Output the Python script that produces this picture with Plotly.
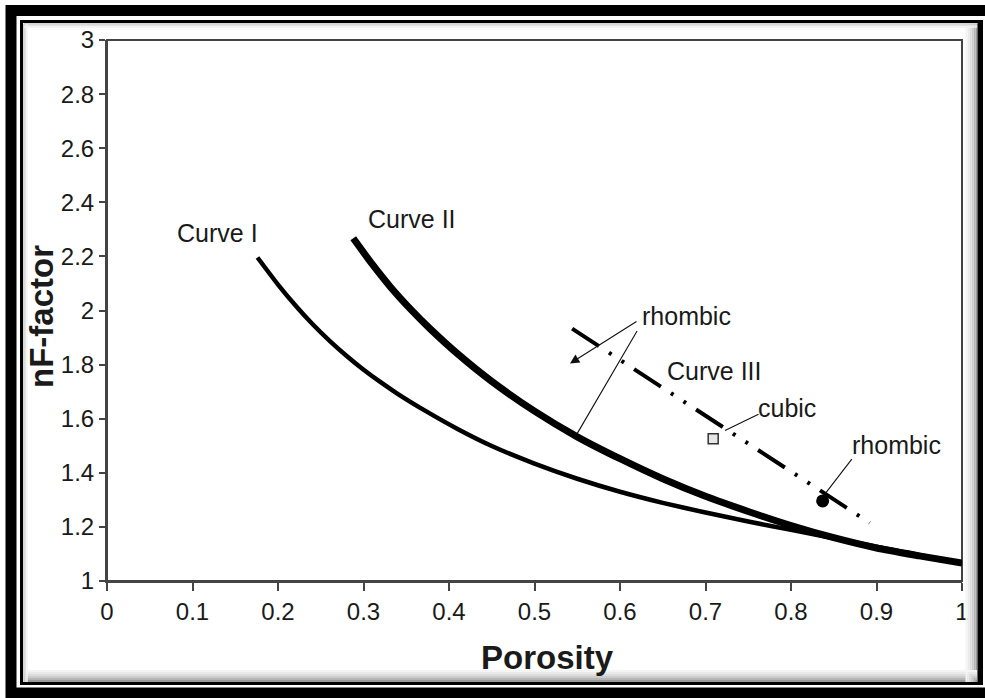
import plotly.graph_objects as go

# ---- data ----
curve1_x = [0.176, 0.20, 0.222, 0.24, 0.261, 0.28, 0.299, 0.32, 0.339, 0.374, 0.41, 0.45, 0.50,
            0.55, 0.60, 0.65, 0.70, 0.75, 0.80, 0.85, 0.90, 0.95, 1.00]
curve1_y = [2.196, 2.096, 2.013, 1.951, 1.886, 1.833, 1.784, 1.735, 1.694, 1.626, 1.562, 1.499, 1.434,
            1.378, 1.33, 1.289, 1.253, 1.22, 1.189, 1.158, 1.127, 1.096, 1.065]

curve2_x = [0.288, 0.31, 0.331, 0.355, 0.378, 0.41, 0.45, 0.50, 0.55, 0.60, 0.65, 0.70, 0.75,
            0.80, 0.85, 0.90, 0.95, 1.00]
curve2_y = [2.267, 2.172, 2.089, 2.005, 1.932, 1.84, 1.738, 1.628, 1.533, 1.452, 1.378, 1.313, 1.257,
            1.205, 1.16, 1.122, 1.093, 1.066]

curve3_x = [0.544, 0.892]
curve3_y = [1.933, 1.215]

cubic_x, cubic_y = [0.709], [1.526]
rhombic_x, rhombic_y = [0.837], [1.296]

x_ticks = [0, 0.1, 0.2, 0.3, 0.4, 0.5, 0.6, 0.7, 0.8, 0.9, 1]
x_tick_labels = ["0", "0.1", "0.2", "0.3", "0.4", "0.5", "0.6", "0.7", "0.8", "0.9", "1"]
y_ticks = [1, 1.2, 1.4, 1.6, 1.8, 2, 2.2, 2.4, 2.6, 2.8, 3]
y_tick_labels = ["1", "1.2", "1.4", "1.6", "1.8", "2", "2.2", "2.4", "2.6", "2.8", "3"]

FONT = "Liberation Sans, Arial, sans-serif"
W, H = 985, 698
ML, MR, MT, MB = 107, 23, 40, 117
PW, PH = W - ML - MR, H - MT - MB


def px(xp):
    return (xp - ML) / PW


def py(yp):
    return (H - MB - yp) / PH


fig = go.Figure()
fig.add_trace(go.Scatter(x=curve1_x, y=curve1_y, mode="lines",
                         line=dict(color="black", width=4.5, shape="spline", smoothing=0.6), showlegend=False))
fig.add_trace(go.Scatter(x=curve2_x, y=curve2_y, mode="lines",
                         line=dict(color="black", width=7, shape="spline", smoothing=0.6), showlegend=False))
fig.add_trace(go.Scatter(x=curve3_x, y=curve3_y, mode="lines",
                         line=dict(color="black", width=4, dash="32px,12px,3px,12px,3px,12px"),
                         showlegend=False))
fig.add_trace(go.Scatter(x=cubic_x, y=cubic_y, mode="markers",
                         marker=dict(symbol="square", size=10, color="#e6e6e6",
                                     line=dict(color="#333", width=1.5)), showlegend=False))
fig.add_trace(go.Scatter(x=rhombic_x, y=rhombic_y, mode="markers",
                         marker=dict(symbol="circle", size=13, color="black"), showlegend=False))

txt = dict(family=FONT, size=25, color="#1a1a1a")

# text labels
fig.add_annotation(x=0.1298, y=2.285, text="Curve I", showarrow=False, font=txt)
fig.add_annotation(x=0.357, y=2.337, text="Curve II", showarrow=False, font=txt)
fig.add_annotation(x=0.710, y=1.778, text="Curve III", showarrow=False, font=txt)
fig.add_annotation(x=0.678, y=1.978, text="rhombic", showarrow=False, font=txt)
fig.add_annotation(x=0.795, y=1.640, text="cubic", showarrow=False, font=txt)
fig.add_annotation(x=0.923, y=1.503, text="rhombic", showarrow=False, font=txt)

# axis titles
ttl = dict(family=FONT, size=33, color="#1a1a1a")
fig.add_annotation(xref="paper", yref="paper", x=px(547), y=py(657), text="<b>Porosity</b>",
                   showarrow=False, font=ttl, xanchor="center", yanchor="middle")
fig.add_annotation(xref="paper", yref="paper", x=px(41), y=py(317), text="<b>nF-factor</b>",
                   showarrow=False, font=ttl, textangle=-90, xanchor="center", yanchor="middle")

# leader lines
leaders = [
    (0.5415, 1.804, 0.621, 1.963, 2),
    (0.5497, 1.544, 0.621, 1.930, 0),
    (0.7228, 1.556, 0.7637, 1.619, 0),
    (0.8398, 1.322, 0.8725, 1.456, 0),
]
for hx, hy, tx, ty, head in leaders:
    fig.add_annotation(x=hx, y=hy, ax=tx, ay=ty, axref="x", ayref="y", xref="x", yref="y",
                       text="", showarrow=True, arrowhead=head, arrowsize=1.7, arrowwidth=1.1,
                       arrowcolor="#111", standoff=0, startstandoff=0)

# plot frame (top/right)
fig.add_shape(type="rect", xref="paper", yref="paper", x0=0, y0=0, x1=1, y1=1,
              line=dict(color="#444", width=2), layer="below")

# soft shadow just inside the inner border
shade = ["#9a9a9a", "#b5b5b5", "#cccccc", "#dddddd", "#eaeaea", "#f4f4f4"]
for i, c in enumerate(shade):
    fig.add_shape(type="line", xref="paper", yref="paper", x0=px(976.5 - i * 2), x1=px(976.5 - i * 2),
                  y0=py(24), y1=py(682), line=dict(color=c, width=2))
    fig.add_shape(type="line", xref="paper", yref="paper", x0=px(24), x1=px(977),
                  y0=py(681 - i * 2), y1=py(681 - i * 2), line=dict(color=c, width=2))
for i, c in enumerate(["#c8c8c8", "#e2e2e2", "#f2f2f2"]):
    fig.add_shape(type="line", xref="paper", yref="paper", x0=px(24), x1=px(977),
                  y0=py(24 + i * 1.5), y1=py(24 + i * 1.5), line=dict(color=c, width=1.5))
    fig.add_shape(type="line", xref="paper", yref="paper", x0=px(24 + i * 1.5), x1=px(24 + i * 1.5),
                  y0=py(24), y1=py(682), line=dict(color=c, width=1.5))

# outer thick black border
fig.add_shape(type="rect", xref="paper", yref="paper", x0=px(11), y0=py(10.5), x1=px(992), y1=py(693),
              line=dict(color="black", width=11))
# inner thin black border
fig.add_shape(type="rect", xref="paper", yref="paper", x0=px(21.5), y0=py(21.5), x1=px(979), y1=py(683.5),
              line=dict(color="black", width=3))
fig.add_shape(type="line", xref="paper", yref="paper", x0=px(981), x1=px(981), y0=py(20), y1=py(685),
              line=dict(color="black", width=4))

fig.update_layout(
    width=W, height=H,
    margin=dict(l=ML, r=MR, t=MT, b=MB),
    paper_bgcolor="white", plot_bgcolor="white",
    font=dict(family=FONT, color="#1a1a1a"),
    xaxis=dict(range=[0, 1], tickvals=x_ticks, ticktext=x_tick_labels, showgrid=False, zeroline=False,
               showline=True, linecolor="#444", linewidth=2, ticks="outside", ticklen=8, tickwidth=2,
               tickcolor="#444", tickfont=dict(size=24, family=FONT, color="#1a1a1a")),
    yaxis=dict(range=[1, 3], tickvals=y_ticks, ticktext=y_tick_labels, showgrid=False, zeroline=False,
               showline=True, linecolor="#444", linewidth=2, ticks="outside", ticklen=6, tickwidth=2,
               tickcolor="#444", tickfont=dict(size=24, family=FONT, color="#1a1a1a")),
)

fig.write_html("out.html", config={"displayModeBar": False},
               post_script="document.body.style.margin='0';document.body.style.overflow='hidden';")
